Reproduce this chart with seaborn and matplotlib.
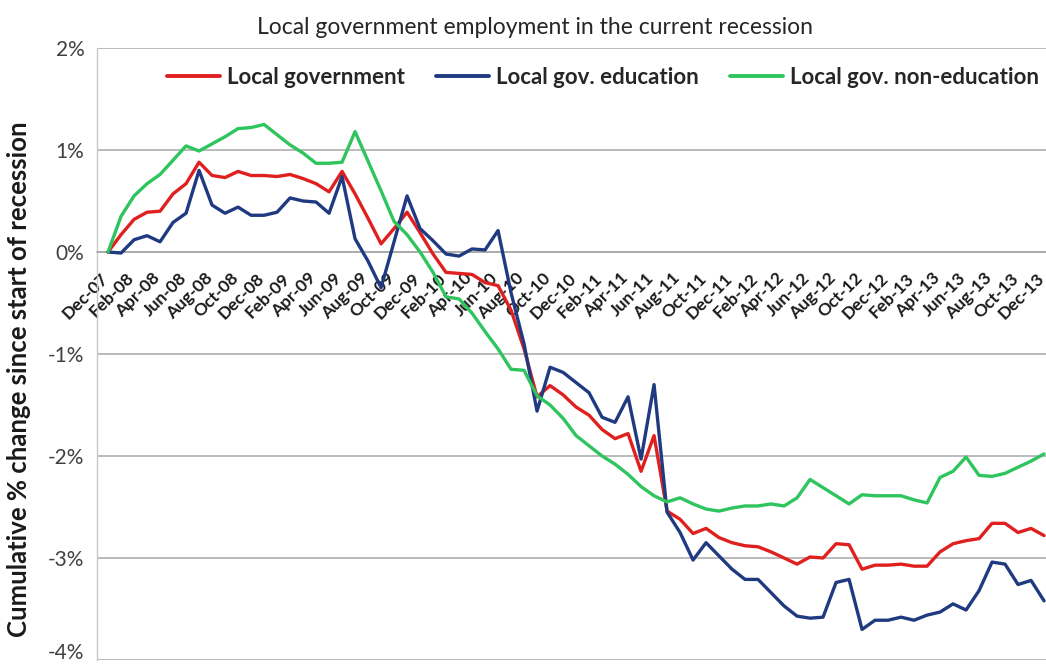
import numpy as np
import pandas as pd
import matplotlib
matplotlib.use("Agg")
import matplotlib.pyplot as plt
import matplotlib.transforms as mtransforms
from matplotlib.lines import Line2D
import seaborn as sns

# ---------------- data ----------------
months = [d.strftime("%b-%y") for d in pd.date_range("2007-12-01", "2013-12-01", freq="MS")]

local_gov = [0, 0.17, 0.32, 0.39, 0.40, 0.57, 0.67, 0.88, 0.75, 0.73, 0.79, 0.75, 0.75, 0.74,
             0.76, 0.72, 0.67, 0.59, 0.79, 0.57, 0.33, 0.08, 0.23, 0.39, 0.19, -0.02, -0.20,
             -0.21, -0.22, -0.30, -0.33, -0.57, -0.95, -1.42, -1.31, -1.40, -1.52, -1.60, -1.74,
             -1.83, -1.78, -2.15, -1.80, -2.54, -2.62, -2.76, -2.71, -2.80, -2.85, -2.88, -2.89,
             -2.94, -3.00, -3.06, -2.99, -3.00, -2.86, -2.87, -3.11, -3.07, -3.07, -3.06, -3.08,
             -3.08, -2.94, -2.86, -2.83, -2.81, -2.66, -2.66, -2.75, -2.71, -2.78]

local_edu = [0, -0.01, 0.12, 0.16, 0.10, 0.29, 0.38, 0.80, 0.46, 0.38, 0.44, 0.36, 0.36, 0.39,
             0.53, 0.50, 0.49, 0.38, 0.74, 0.13, -0.09, -0.35, 0.10, 0.55, 0.23, 0.11, -0.02,
             -0.04, 0.03, 0.02, 0.21, -0.40, -0.90, -1.56, -1.13, -1.18, -1.28, -1.38, -1.62,
             -1.67, -1.42, -2.03, -1.30, -2.55, -2.75, -3.02, -2.85, -2.98, -3.11, -3.21, -3.21,
             -3.34, -3.47, -3.57, -3.59, -3.58, -3.24, -3.21, -3.70, -3.61, -3.61, -3.58, -3.61,
             -3.56, -3.53, -3.45, -3.51, -3.32, -3.04, -3.06, -3.26, -3.22, -3.42]

local_nonedu = [0, 0.35, 0.55, 0.67, 0.76, 0.90, 1.04, 0.99, 1.06, 1.13, 1.21, 1.22, 1.25, 1.15,
                1.05, 0.97, 0.87, 0.87, 0.88, 1.18, 0.89, 0.60, 0.30, 0.17, 0.00, -0.20, -0.44,
                -0.46, -0.60, -0.78, -0.95, -1.15, -1.16, -1.41, -1.50, -1.63, -1.80, -1.90, -2.00,
                -2.08, -2.18, -2.30, -2.39, -2.45, -2.41, -2.47, -2.52, -2.54, -2.51, -2.49, -2.49,
                -2.47, -2.49, -2.41, -2.23, -2.31, -2.39, -2.47, -2.38, -2.39, -2.39, -2.39, -2.43,
                -2.46, -2.21, -2.15, -2.01, -2.19, -2.20, -2.17, -2.11, -2.05, -1.98]

series_names = ["Local government", "Local gov. education", "Local gov. non-education"]
series_colors = ["#E0201F", "#1F3A80", "#2EC45E"]
y_ticks = [-4, -3, -2, -1, 0, 1, 2]
y_tick_labels = [f"{v}%" for v in y_ticks]

df = pd.concat([
    pd.DataFrame({"idx": np.arange(len(months)), "month": months, "value": vals, "series": name})
    for name, vals in zip(series_names, [local_gov, local_edu, local_nonedu])
])

# ---------------- style ----------------
sns.set_theme(style="white")
plt.rcParams["font.family"] = ["Lato", "DejaVu Sans"]

W, H = 1046, 666
fig = plt.figure(figsize=(W / 100, H / 100), dpi=100)
ax = fig.add_axes([97 / W, 6 / H, 949 / W, 612 / H])

sns.lineplot(data=df, x="idx", y="value", hue="series", hue_order=series_names,
             palette=series_colors, linewidth=2.4, legend=False, ax=ax, zorder=3)

ax.set_xlim(-0.85, 72.15)
ax.set_ylim(-4, 2)
ax.set_yticks(y_ticks)
# the lowest label sits at the canvas edge; draw it separately, nudged up to stay inside
ax.set_yticklabels([""] + y_tick_labels[1:], fontsize=15, color="#404040")
ax.annotate(y_tick_labels[0], xy=(0, y_ticks[0]), xycoords=("axes fraction", "data"),
            xytext=(-9, 5), textcoords="offset points", ha="right", va="center",
            fontsize=15, color="#404040", annotation_clip=False)
ax.yaxis.grid(True, color="#A8A8A8", linewidth=1.1, zorder=0)
ax.xaxis.grid(False)
ax.set_axisbelow(True)
ax.set_xlabel("")
ax.set_ylabel("")

for s in ["top", "right"]:
    ax.spines[s].set_visible(False)
ax.spines["left"].set_color("#C8C8C8")
ax.spines["left"].set_linewidth(1.0)
ax.spines["bottom"].set_position(("data", 0))
ax.spines["bottom"].set_color("#A8A8A8")
ax.spines["bottom"].set_linewidth(1.1)

ax.tick_params(axis="y", length=0, pad=9)
ax.set_xticks(np.arange(0, len(months), 2))
ax.set_xticklabels(months[::2], rotation=45, ha="right", va="top",
                   rotation_mode="anchor", fontsize=12.5, fontweight="bold", color="#1a1a1a")
ax.tick_params(axis="x", which="major", length=0, pad=13)
shift = mtransforms.ScaledTranslation(-8 / 100, 0, fig.dpi_scale_trans)
for lbl in ax.get_xticklabels():
    lbl.set_transform(lbl.get_transform() + shift)
ax.set_xticks(np.arange(1.5, len(months), 2), minor=True)
ax.tick_params(axis="x", which="minor", length=6, width=1, color="#A8A8A8", direction="out")

# title
fig.text(535 / W, 1 - 27 / H, "Local government employment in the current recession",
         ha="center", va="center", fontsize=16.5, color="#262626")

# y label
fig.text(19 / W, 1 - 379 / H, "Cumulative % change since start of recession", rotation=90,
         ha="center", va="center", fontsize=18.5, fontweight="bold", color="#1a1a1a")

# legend
handles = [Line2D([0], [0], color=c, linewidth=2.8) for c in series_colors]
fig.legend(handles, series_names, loc="center", bbox_to_anchor=(603 / W, 1 - 77 / H),
           ncol=3, frameon=False, handlelength=2.4, handletextpad=0.3, columnspacing=1.4,
           prop={"weight": "bold", "size": 16})

fig.savefig("out.png", dpi=100)
